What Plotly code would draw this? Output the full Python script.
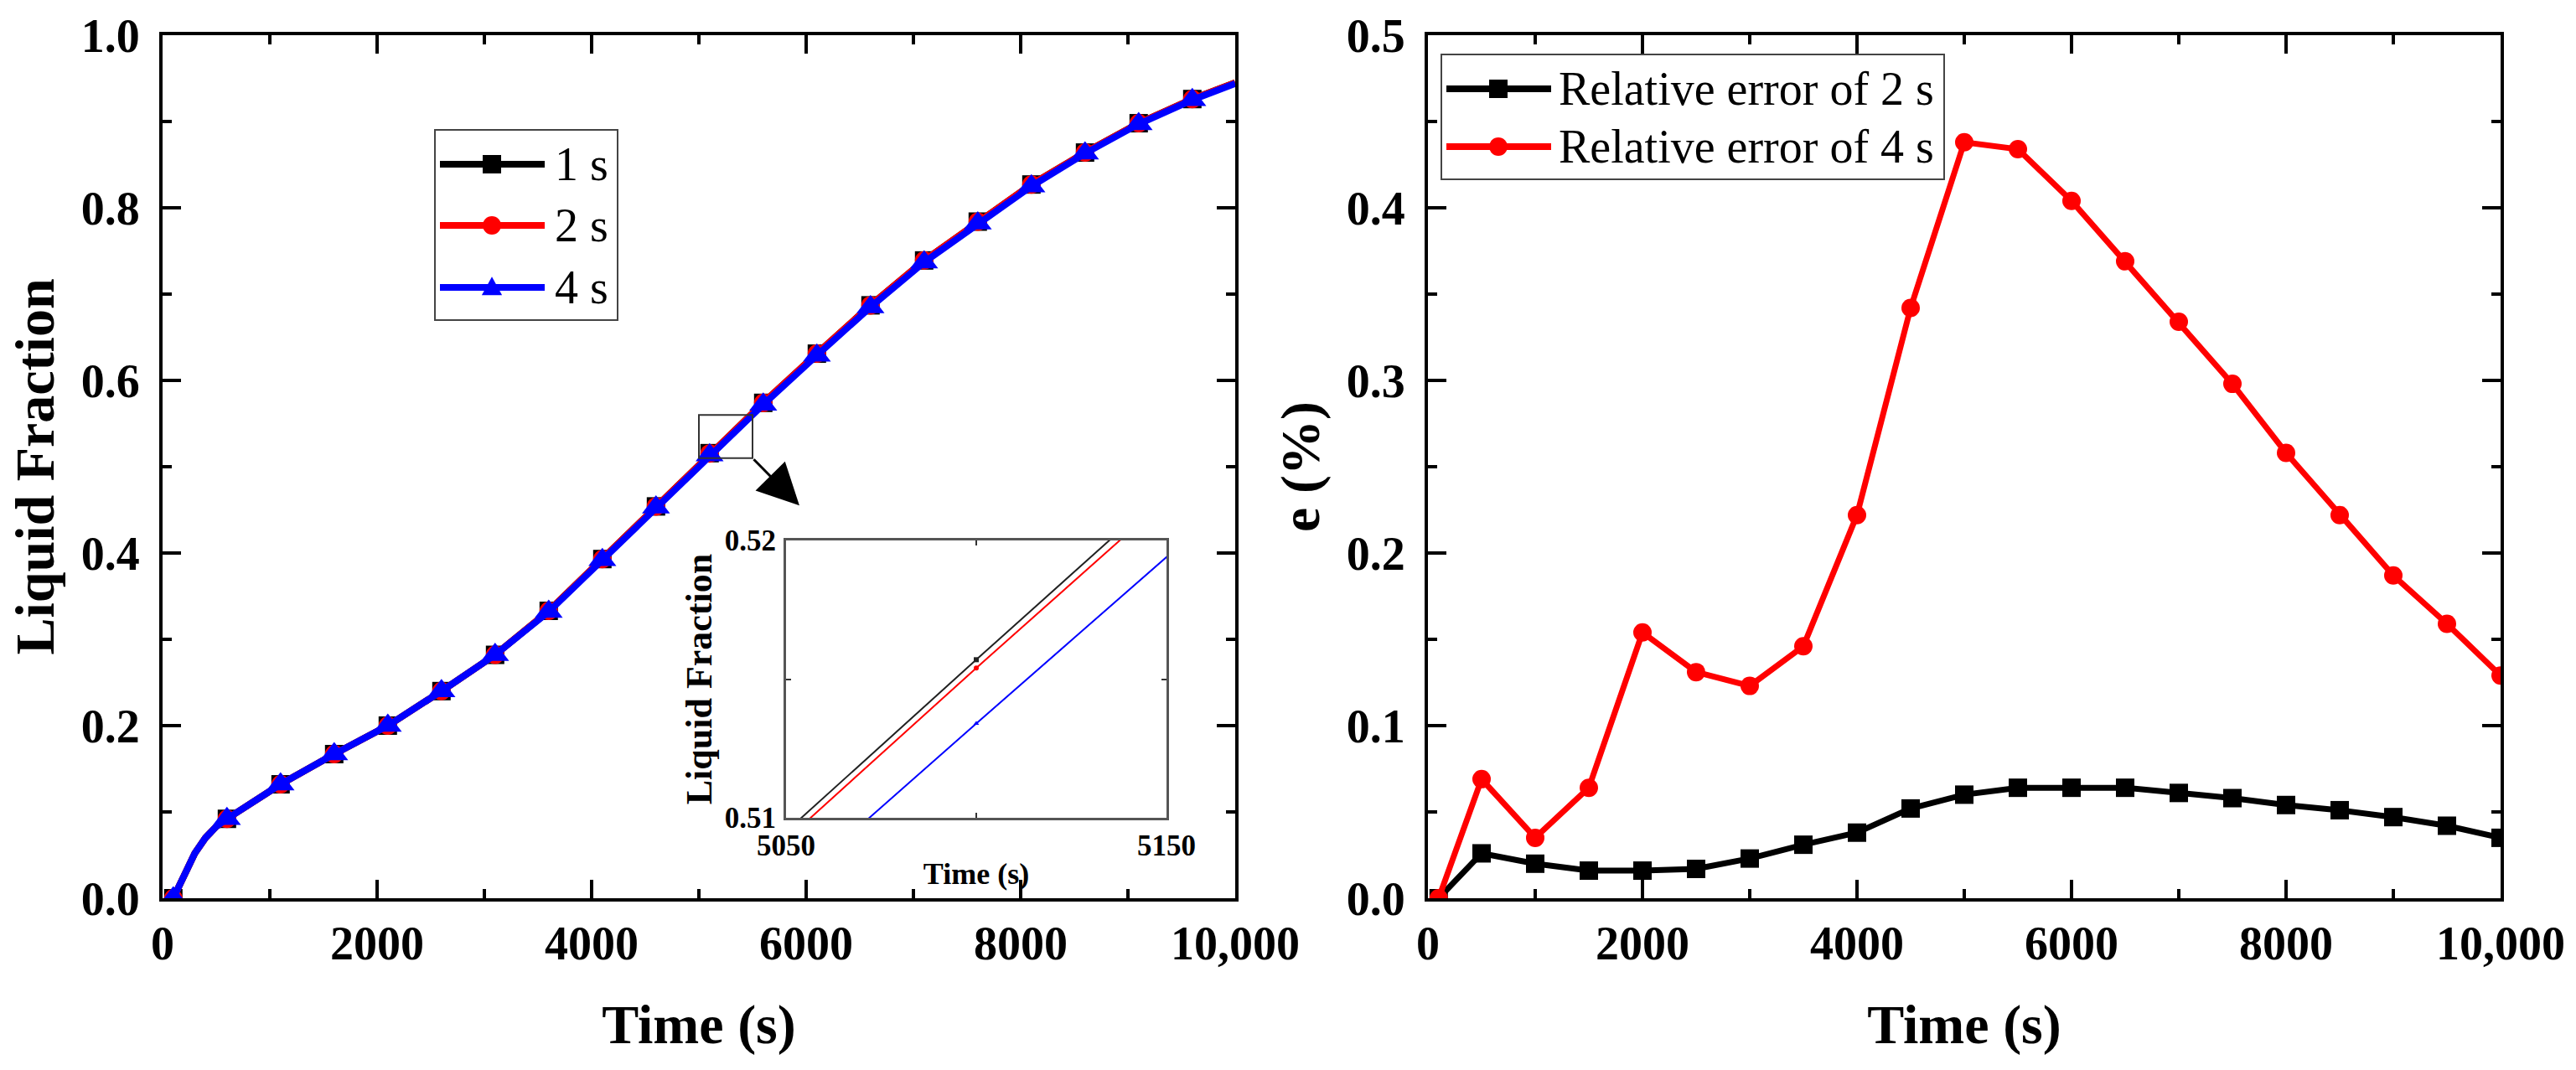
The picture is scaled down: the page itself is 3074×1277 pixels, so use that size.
import plotly.graph_objects as go

# ---------------- data ----------------
time_lf = [100, 200, 300, 400, 500, 600, 1100, 1600, 2100, 2600, 3100, 3600, 4100,
           4600, 5100, 5600, 6100, 6600, 7100, 7600, 8100, 8600, 9100, 9600, 10000]
lf_1s = [0.000, 0.027, 0.052, 0.070, 0.083, 0.092, 0.132, 0.167, 0.200, 0.240, 0.282, 0.333, 0.393,
         0.454, 0.5157, 0.574, 0.631, 0.687, 0.739, 0.784, 0.827, 0.864, 0.898, 0.926, 0.945]
lf_2s = [0.000, 0.027, 0.052, 0.070, 0.083, 0.092, 0.132, 0.167, 0.200, 0.240, 0.282, 0.333, 0.393,
         0.454, 0.5154, 0.574, 0.631, 0.687, 0.739, 0.784, 0.827, 0.864, 0.898, 0.926, 0.945]
lf_4s = [0.000, 0.027, 0.052, 0.070, 0.083, 0.092, 0.132, 0.167, 0.200, 0.240, 0.282, 0.332, 0.392,
         0.453, 0.5134, 0.572, 0.629, 0.685, 0.737, 0.782, 0.825, 0.863, 0.897, 0.925, 0.944]
marker_time_lf = [100, 600, 1100, 1600, 2100, 2600, 3100, 3600, 4100, 4600, 5100,
                  5600, 6100, 6600, 7100, 7600, 8100, 8600, 9100, 9600]

inset_time = [5000, 5100, 5200]
inset_1s = [0.5033, 0.5157, 0.5280]
inset_2s = [0.5030, 0.5154, 0.5276]
inset_4s = [0.5013, 0.5134, 0.5254]

time_err = [100, 500, 1000, 1500, 2000, 2500, 3000, 3500, 4000, 4500, 5000,
            5500, 6000, 6500, 7000, 7500, 8000, 8500, 9000, 9500, 10000]
err_2s = [0.000, 0.026, 0.020, 0.016, 0.016, 0.017, 0.023, 0.031, 0.038, 0.052, 0.060,
          0.064, 0.064, 0.064, 0.061, 0.058, 0.054, 0.051, 0.047, 0.042, 0.035]
err_4s = [0.000, 0.069, 0.035, 0.064, 0.154, 0.131, 0.123, 0.146, 0.222, 0.342, 0.438,
          0.434, 0.404, 0.369, 0.334, 0.298, 0.258, 0.222, 0.187, 0.159, 0.129]

x_tick_vals = [0, 2000, 4000, 6000, 8000, 10000]
x_tick_text = ["0", "2000", "4000", "6000", "8000", "10,000"]
inset_x_vals = [5050, 5100, 5150]
inset_x_text = ["5050", "", "5150"]
inset_y_vals = [0.51, 0.515, 0.52]
inset_y_text = ["0.51", "", "0.52"]

lf_legend = ["1 s", "2 s", "4 s"]
err_legend = ["Relative error of 2 s", "Relative error of 4 s"]

zoom_box_time = [5000, 5500]
zoom_box_lf = [0.51, 0.56]
arrow_tail = [5500, 0.51]
arrow_head = [5937, 0.455]

# ---------------- styling ----------------
W, H = 3074, 1277
FONT = "Liberation Serif"
BLACK, RED, BLUE = "#000000", "#FF0000", "#0000FF"


def fx(p):
    return p / W


def fy(p):
    return 1 - p / H


fig = go.Figure()

# left main plot
marker_set = set(marker_time_lf)
for ys, color, symbol, size, name in [(lf_1s, BLACK, "square", 22, lf_legend[0]),
                                      (lf_2s, RED, "circle", 22, lf_legend[1]),
                                      (lf_4s, BLUE, "triangle-up", 29, lf_legend[2])]:
    fig.add_trace(go.Scatter(x=time_lf, y=ys, mode="lines", name=name,
                             line=dict(color=color, width=8), showlegend=False,
                             xaxis="x", yaxis="y"))
    mx = [t for t in time_lf if t in marker_set]
    my = [v for t, v in zip(time_lf, ys) if t in marker_set]
    fig.add_trace(go.Scatter(x=mx, y=my, mode="markers", name=name,
                             marker=dict(color=color, symbol=symbol, size=size),
                             showlegend=False, xaxis="x", yaxis="y"))

# inset
for ys, color, symbol in [(inset_1s, "#222222", "square"), (inset_2s, RED, "circle"),
                          (inset_4s, BLUE, "triangle-up")]:
    fig.add_trace(go.Scatter(x=inset_time, y=ys, mode="lines+markers",
                             line=dict(color=color, width=2),
                             marker=dict(color=color, symbol=symbol, size=6),
                             showlegend=False, xaxis="x3", yaxis="y3"))

# right plot
for ys, color, symbol, name in [(err_2s, BLACK, "square", err_legend[0]),
                                (err_4s, RED, "circle", err_legend[1])]:
    fig.add_trace(go.Scatter(x=time_err, y=ys, mode="lines+markers", name=name,
                             line=dict(color=color, width=7),
                             marker=dict(color=color, symbol=symbol, size=22),
                             showlegend=False, xaxis="x2", yaxis="y2"))

tickfont = dict(family=FONT, size=56, color="black", weight="bold")
titlefont = dict(family=FONT, size=66, color="black", weight="bold")
common = dict(showline=True, linecolor="black", linewidth=4, mirror="allticks",
              ticks="inside", ticklen=22, tickwidth=4, tickcolor="black",
              showgrid=False, zeroline=False, automargin=False, tickfont=tickfont)
minor_common = dict(tickmode="linear", tick0=0, ticks="inside", ticklen=11, tickwidth=4,
                    tickcolor="black", showgrid=False)

xl = [fx(194), fx(1474)]
xr = [fx(1704), fx(2984)]
yd = [fy(1072), fy(42)]

fig.update_layout(
    width=W, height=H, template="none",
    margin=dict(l=0, r=0, t=0, b=0),
    paper_bgcolor="white", plot_bgcolor="white",
    showlegend=False,
    font=dict(family=FONT, color="black"),
    xaxis=dict(domain=xl, range=[0, 10000], anchor="y", tickmode="array",
               tickvals=x_tick_vals, ticktext=x_tick_text, ticklabelstandoff=2,
               minor=dict(dtick=1000, **minor_common),
               title=dict(text="Time (s)", font=titlefont, standoff=44), **common),
    yaxis=dict(domain=yd, range=[0, 1], anchor="x", dtick=0.2, tick0=0, tickformat=".1f",
               ticklabelstandoff=12, minor=dict(dtick=0.1, **minor_common),
               title=dict(text="Liquid Fraction", font=titlefont, standoff=12), **common),
    xaxis2=dict(domain=xr, range=[0, 10000], anchor="y2", tickmode="array",
                tickvals=x_tick_vals, ticktext=x_tick_text, ticklabelstandoff=2,
                minor=dict(dtick=1000, **minor_common),
                title=dict(text="Time (s)", font=titlefont, standoff=44), **common),
    yaxis2=dict(domain=yd, range=[0, 0.5], anchor="x2", dtick=0.1, tick0=0, tickformat=".1f",
                ticklabelstandoff=12, minor=dict(dtick=0.05, **minor_common),
                title=dict(text="e (%)", font=titlefont, standoff=12), **common),
    xaxis3=dict(domain=[fx(938), fx(1392)], range=[5050, 5150], anchor="y3",
                tickmode="array", tickvals=inset_x_vals, ticktext=inset_x_text,
                showline=True, linecolor="#555555", linewidth=3, mirror="allticks",
                ticks="inside", ticklen=6, tickwidth=2, tickcolor="#333333",
                showgrid=False, zeroline=False, automargin=False, ticklabelstandoff=0,
                tickfont=dict(family=FONT, size=35, color="black", weight="bold"),
                title=dict(text="Time (s)", standoff=2,
                           font=dict(family=FONT, size=36, color="black", weight="bold"))),
    yaxis3=dict(domain=[fy(976), fy(645)], range=[0.51, 0.52], anchor="x3",
                tickmode="array", tickvals=inset_y_vals, ticktext=inset_y_text,
                showline=True, linecolor="#555555", linewidth=3, mirror="allticks",
                ticks="inside", ticklen=6, tickwidth=2, tickcolor="#333333",
                showgrid=False, zeroline=False, automargin=False, ticklabelstandoff=2,
                tickfont=dict(family=FONT, size=35, color="black", weight="bold"),
                title=dict(text="Liquid Fraction", standoff=2,
                           font=dict(family=FONT, size=44, color="black", weight="bold"))),
)

shapes = []
annotations = []

# zoom box and arrow on the left plot
shapes.append(dict(type="rect", xref="x", yref="y",
                   x0=zoom_box_time[0], x1=zoom_box_time[1],
                   y0=zoom_box_lf[0], y1=zoom_box_lf[1],
                   line=dict(color="#333333", width=2), fillcolor="rgba(0,0,0,0)"))
annotations.append(dict(xref="x", yref="y", axref="x", ayref="y",
                        x=arrow_head[0], y=arrow_head[1], ax=arrow_tail[0], ay=arrow_tail[1],
                        showarrow=True, arrowhead=2, arrowsize=3.3, arrowwidth=3,
                        arrowcolor="black", text=""))


def marker_shape(symbol, cx, cy, color, r):
    base = dict(xref="paper", yref="paper", xsizemode="pixel", ysizemode="pixel",
                xanchor=cx, yanchor=cy, fillcolor=color, line=dict(width=0))
    if symbol == "square":
        base.update(type="rect", x0=-r, x1=r, y0=-r, y1=r)
    elif symbol == "circle":
        base.update(type="circle", x0=-r, x1=r, y0=-r, y1=r)
    else:
        base.update(type="path", path=f"M{-r*1.1},{-r*0.85} L{r*1.1},{-r*0.85} L0,{r*1.15} Z")
    return base


def build_legend(box, line_x, mark_x, text_x, rows, labels, colors, symbols, lw):
    shapes.append(dict(type="rect", xref="paper", yref="paper",
                       x0=fx(box[0]), x1=fx(box[1]), y0=fy(box[3]), y1=fy(box[2]),
                       line=dict(color="#444444", width=2), fillcolor="white"))
    for row, lab, col, sym in zip(rows, labels, colors, symbols):
        shapes.append(dict(type="line", xref="paper", yref="paper",
                           x0=fx(line_x[0]), x1=fx(line_x[1]), y0=fy(row), y1=fy(row),
                           line=dict(color=col, width=lw)))
        shapes.append(marker_shape(sym, fx(mark_x), fy(row), col, 11))
        annotations.append(dict(xref="paper", yref="paper", x=fx(text_x), y=fy(row),
                                xanchor="left", yanchor="middle", showarrow=False, text=lab,
                                font=dict(family=FONT, size=56, color="black")))


build_legend([519, 737, 155, 382], [525, 650], 587, 660, [196, 269, 343],
             lf_legend, [BLACK, RED, BLUE], ["square", "circle", "triangle"], 8)
build_legend([1720, 2320, 65, 214], [1726, 1851], 1788, 1858, [106, 175],
             err_legend, [BLACK, RED], ["square", "circle"], 8)

fig.update_layout(shapes=shapes, annotations=annotations)

fig.write_html("out.html", config={"displayModeBar": False},
               post_script="document.body.style.margin='0';")
